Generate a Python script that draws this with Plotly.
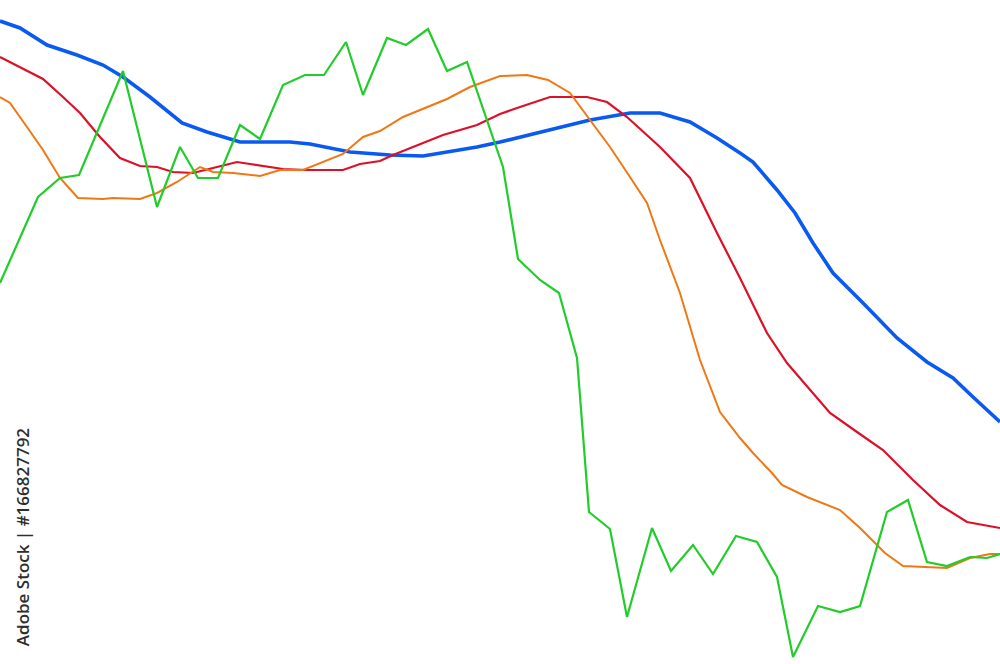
import plotly.graph_objects as go

# time axis (0-100) and price levels
green_t = [0, 3.8, 6.0, 7.9, 12.3, 15.7, 18.0, 19.8, 21.8, 24.0, 26.0, 28.3, 30.5, 32.4, 34.6, 36.3,
           38.7, 40.6, 42.8, 44.7, 46.7, 50.3, 51.8, 54.0, 55.9, 57.7, 58.9, 61.0, 62.7, 65.2, 67.1,
           69.3, 71.3, 73.6, 75.7, 77.7, 79.3, 81.8, 84.0, 86.0, 88.7, 90.8, 92.7, 94.7, 97.0, 98.7, 100]
green_v = [381, 467, 486, 489, 593, 457, 517, 486, 486, 539, 525, 579, 589, 589, 622, 569,
           626, 619, 635, 593, 602, 497, 405, 384, 371, 306, 152, 135, 47, 136, 93,
           119, 90, 128, 122, 87, 7, 58, 52, 58, 152, 164, 102, 98, 107, 106, 110]

orange_t = [0, 1.0, 2.7, 4.3, 6.0, 7.8, 10.3, 11.3, 14.0, 15.7, 17.7, 20.0, 21.3, 23.3, 26.0, 28.0,
            30.3, 34.3, 36.3, 38.0, 40.3, 44.7, 47.0, 50.0, 52.7, 54.8, 57.0, 59.0, 61.0, 63.0, 64.7,
            66.0, 68.0, 70.0, 72.0, 74.0, 75.3, 77.2, 78.2, 80.7, 84.0, 86.0, 88.5, 90.3, 94.7, 97.0, 99.0, 100]
orange_v = [567, 561, 537, 514, 486, 466, 465, 466, 465, 471, 482, 497, 492, 491, 488, 494,
            494, 510, 527, 533, 547, 565, 577, 588, 589, 584, 571, 544, 517, 487, 461,
            424, 371, 304, 252, 226, 211, 191, 179, 167, 154, 136, 111, 98, 96, 106, 110, 110]

red_t = [0, 2.0, 4.3, 6.3, 8.0, 10.0, 12.0, 14.0, 15.7, 17.3, 19.3, 21.7, 23.7, 25.0, 28.3, 30.7,
         34.3, 36.0, 38.0, 39.3, 42.3, 44.3, 47.7, 50.0, 52.0, 55.0, 58.7, 60.7, 62.7, 66.0, 69.0,
         71.7, 74.0, 76.7, 78.7, 81.0, 83.0, 85.7, 88.3, 91.3, 94.0, 96.7, 100]
red_v = [607, 597, 585, 567, 551, 527, 506, 498, 497, 492, 491, 497, 502, 500, 495, 494,
         494, 500, 503, 509, 521, 529, 539, 550, 557, 567, 567, 562, 547, 517, 486,
         431, 386, 331, 301, 274, 251, 232, 214, 184, 159, 142, 136]

blue_t = [0, 2.0, 4.7, 7.7, 10.3, 12.3, 15.0, 18.2, 20.7, 24.0, 29.0, 31.0, 35.0, 39.0, 42.3, 44.3,
          47.7, 50.0, 55.0, 59.0, 63.0, 66.0, 69.0, 71.7, 74.0, 75.3, 77.7, 79.5, 81.3, 83.3, 86.3,
          89.7, 92.7, 95.3, 97.3, 100]
blue_v = [643, 636, 619, 609, 599, 587, 567, 541, 532, 522, 522, 520, 512, 509, 508, 511,
          517, 522, 534, 544, 551, 551, 542, 526, 511, 502, 474, 451, 421, 391, 361,
          326, 302, 286, 267, 242]

fig = go.Figure()
fig.add_trace(go.Scatter(x=blue_t, y=blue_v, mode="lines",
                         line=dict(color="#0a5af2", width=3.6), hoverinfo="skip"))
fig.add_trace(go.Scatter(x=red_t, y=red_v, mode="lines",
                         line=dict(color="#dc1028", width=2.2), hoverinfo="skip"))
fig.add_trace(go.Scatter(x=orange_t, y=orange_v, mode="lines",
                         line=dict(color="#f07814", width=2.0), hoverinfo="skip"))
fig.add_trace(go.Scatter(x=green_t, y=green_v, mode="lines",
                         line=dict(color="#22cc2a", width=2.2), hoverinfo="skip"))

fig.add_annotation(text="Adobe Stock | #166827792", xref="paper", yref="paper",
                   x=0.022, y=0.191, xanchor="center", yanchor="middle",
                   textangle=-90, showarrow=False,
                   font=dict(family="Open Sans", size=17, color="#2e2e2e", weight=600))

fig.update_layout(
    width=1000, height=664,
    margin=dict(l=0, r=0, t=0, b=0),
    paper_bgcolor="white", plot_bgcolor="white",
    showlegend=False,
    hovermode=False,
    xaxis=dict(range=[0, 100], visible=False),
    yaxis=dict(range=[0, 664], visible=False),
)
fig.write_html("out.html", config={"displayModeBar": False, "staticPlot": True},
               post_script="document.body.style.margin='0';document.body.style.overflow='hidden';")
